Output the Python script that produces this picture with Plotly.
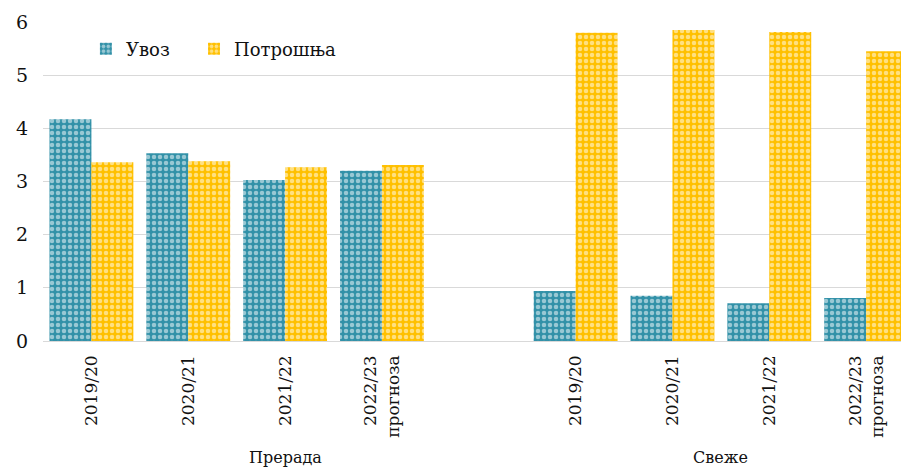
import plotly.graph_objects as go

years = ["2019/20", "2020/21", "2021/22", "2022/23<br>прогноза"]
groups = ["Прерада", "Свеже"]
uvoz_prerada = [4.17, 3.53, 3.03, 3.20]
potr_prerada = [3.36, 3.38, 3.27, 3.31]
uvoz_sveze = [0.94, 0.85, 0.71, 0.81]
potr_sveze = [5.80, 5.85, 5.81, 5.45]

# positions: Прерада occupies slots 0..4 (last empty), Свеже 5..8
pos_prerada = list(range(0, 4))
pos_sveze = list(range(5, 9))
xs = pos_prerada + pos_sveze
uvoz = uvoz_prerada + uvoz_sveze
potr = potr_prerada + potr_sveze

TEAL = "#3291a8"
GOLD = "#ffc000"
FONT = "DejaVu Serif"
TXT = "#111111"

fig = go.Figure()
fig.add_trace(go.Bar(
    x=xs, y=uvoz, name="Увоз", legend="legend",
    marker=dict(color=TEAL, line=dict(width=0),
                pattern=dict(shape=".", fgcolor="white", bgcolor=TEAL, size=6, solidity=0.45)),
))
fig.add_trace(go.Bar(
    x=xs, y=potr, name="Потрошња", legend="legend2",
    marker=dict(color=GOLD, line=dict(width=0),
                pattern=dict(shape=".", fgcolor="white", bgcolor=GOLD, size=6, solidity=0.45)),
))

leg_common = dict(orientation="h", xanchor="left", yanchor="middle",
                  font=dict(size=18, family=FONT, color=TXT), bgcolor="rgba(0,0,0,0)")

fig.update_layout(
    width=901, height=469,
    margin=dict(l=43, r=0, t=22, b=128, autoexpand=False),
    paper_bgcolor="white", plot_bgcolor="white",
    barmode="group", bargap=0.134, bargroupgap=0,
    font=dict(family=FONT, size=17, color=TXT),
    showlegend=True,
    legend=dict(x=0.05, y=0.915, **leg_common),
    legend2=dict(x=0.176, y=0.915, **leg_common),
    xaxis=dict(
        range=[-0.5, 8.36], automargin=False,
        tickmode="array", tickvals=xs, ticktext=years + years,
        tickangle=-90, showgrid=False, zeroline=False, showline=False,
        ticks="", ticklabelstandoff=10,
        tickfont=dict(size=17, family=FONT, color=TXT),
    ),
    yaxis=dict(
        range=[0, 6], dtick=1, showgrid=True, gridcolor="#d9d9d9", gridwidth=1.3,
        zeroline=True, zerolinecolor="#d9d9d9", zerolinewidth=1.3, automargin=False,
        showline=False, ticks="", ticklabelstandoff=14,
        tickfont=dict(size=19, family=FONT, color=TXT),
    ),
)

group_centers = [sum(range(0, 5)) / 5, sum(pos_sveze) / 4]
for g, cx in zip(groups, group_centers):
    fig.add_annotation(x=cx, y=0, xref="x", yref="paper", text=g, showarrow=False,
                       yshift=-116, font=dict(size=16, family=FONT, color=TXT), yanchor="middle")

fig.write_html("out.html", config={"displayModeBar": False},
               post_script="document.body.style.margin='0';document.body.style.overflow='hidden';")
